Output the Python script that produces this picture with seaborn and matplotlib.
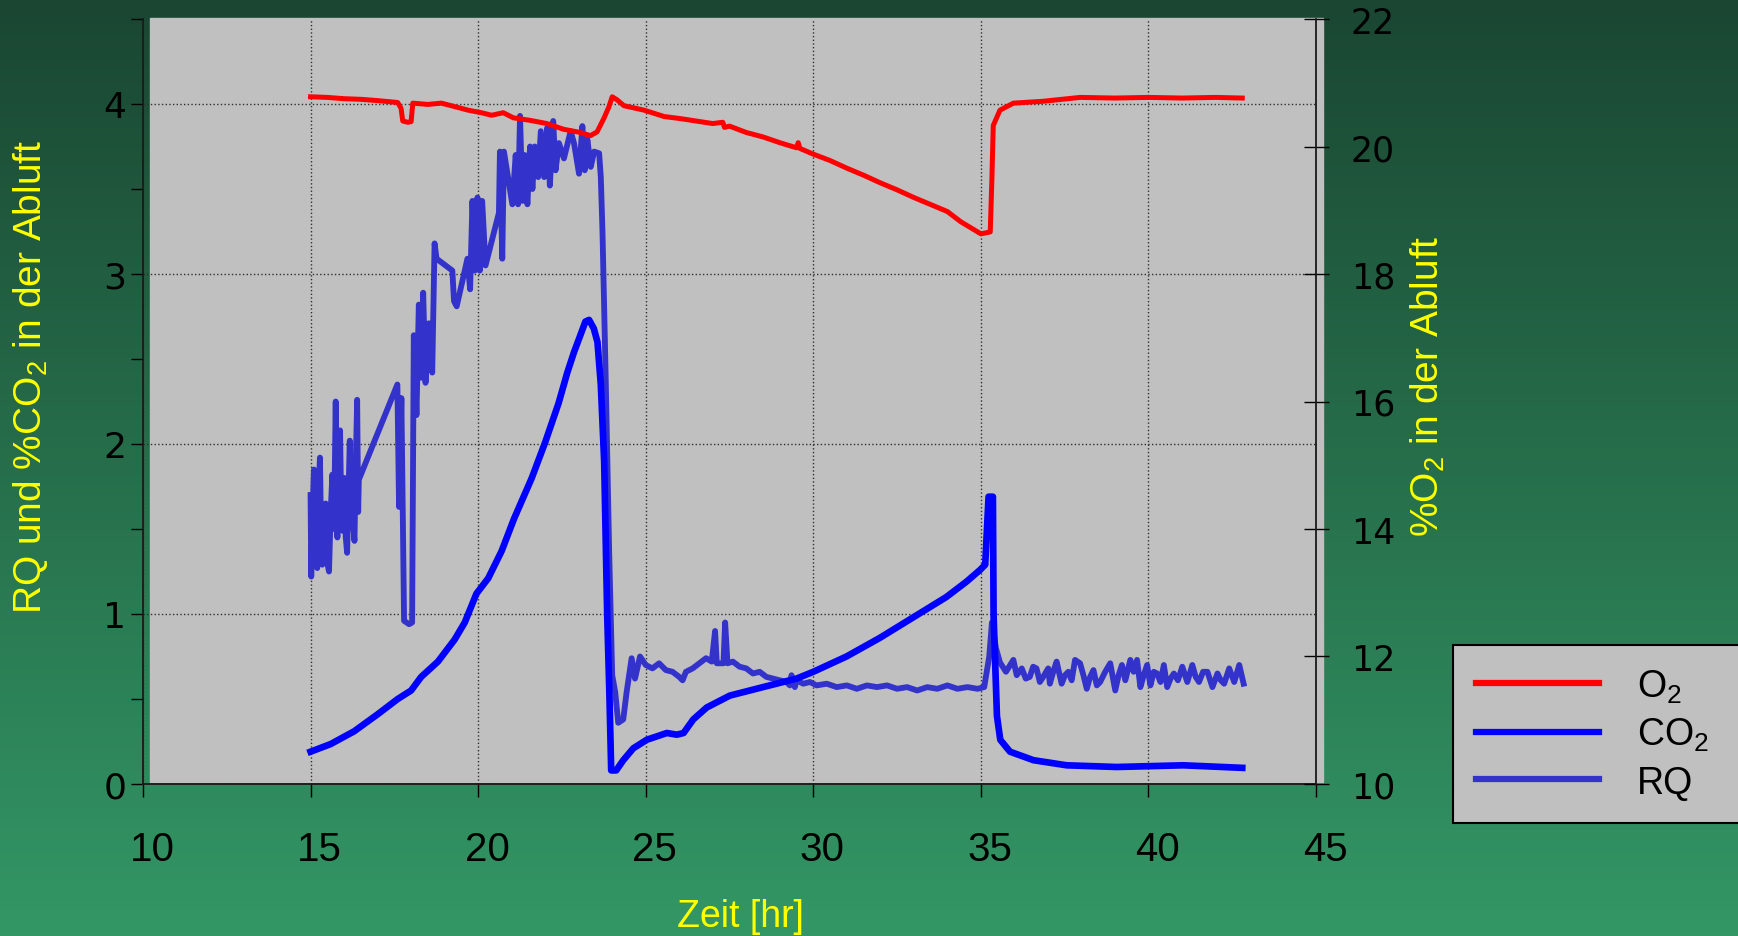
import numpy as np
import matplotlib
matplotlib.use("Agg")
import matplotlib.pyplot as plt
import matplotlib.transforms as mtransforms
from matplotlib.patches import Rectangle
import seaborn as sns

# O2 in der Abluft (right axis, %)
o2_time = [15.0, 15.5, 16.0, 16.5, 17.0, 17.6, 17.7, 17.75, 17.9, 18.0, 18.05, 18.5, 18.9,
           19.2, 19.7, 20.1, 20.4, 20.75, 21.05, 21.55, 22.05, 22.55, 23.05, 23.35, 23.55,
           23.75, 23.9, 24.0, 24.15, 24.35, 24.95, 25.55, 26.0, 26.5, 27.0, 27.3, 27.35,
           27.5, 28.0, 28.5, 29.0, 29.5, 29.55, 29.6, 30.0, 30.5, 31.0, 31.5, 32.0, 32.5,
           33.0, 33.5, 34.0, 34.4, 35.0, 35.28, 35.33, 35.37, 35.57, 35.97, 36.87, 37.96,
           39.0, 40.0, 41.0, 42.0, 42.8]
o2_value = [20.78, 20.77, 20.75, 20.74, 20.72, 20.69, 20.60, 20.40, 20.38, 20.39, 20.68, 20.66,
            20.68, 20.64, 20.57, 20.53, 20.49, 20.53, 20.45, 20.41, 20.36, 20.27, 20.22, 20.17,
            20.23, 20.44, 20.62, 20.78, 20.73, 20.64, 20.57, 20.47, 20.44, 20.40, 20.36, 20.38,
            20.30, 20.32, 20.22, 20.15, 20.06, 19.98, 20.06, 19.97, 19.88, 19.78, 19.66, 19.55,
            19.43, 19.32, 19.20, 19.09, 18.98, 18.82, 18.63, 18.66, 19.50, 20.33, 20.57, 20.68,
            20.71, 20.77, 20.76, 20.77, 20.76, 20.77, 20.76]

# CO2 in der Abluft (left axis, %)
co2_time = [15.0, 15.6, 16.3, 17.0, 17.6, 18.0, 18.3, 18.8, 19.3, 19.6, 19.95, 20.3, 20.7,
            21.07, 21.6, 22.0, 22.4, 22.66, 22.86, 23.05, 23.2, 23.31, 23.45, 23.56, 23.66,
            23.76, 23.85, 23.92, 23.97, 24.12, 24.33, 24.63, 25.03, 25.63, 25.93, 26.13, 26.42,
            26.82, 27.51, 28.5, 29.5, 30.0, 30.99, 31.99, 32.98, 33.97, 34.57, 34.98, 35.13,
            35.23, 35.36, 35.38, 35.48, 35.58, 35.87, 36.57, 37.56, 39.05, 41.04, 42.8]
co2_value = [0.19, 0.235, 0.31, 0.41, 0.50, 0.55, 0.63, 0.72, 0.85, 0.95, 1.12, 1.21, 1.37,
             1.56, 1.80, 2.01, 2.24, 2.42, 2.54, 2.64, 2.72, 2.73, 2.68, 2.60, 2.35,
             1.90, 1.00, 0.50, 0.08, 0.08, 0.14, 0.21, 0.26, 0.30, 0.29, 0.30, 0.38,
             0.45, 0.52, 0.57, 0.62, 0.66, 0.75, 0.86, 0.98, 1.10, 1.19, 1.26, 1.29,
             1.69, 1.69, 0.99, 0.40, 0.26, 0.19, 0.14, 0.11, 0.10, 0.11, 0.095]

# RQ (left axis)
rq_time = [15.00, 15.02, 15.06, 15.10, 15.14, 15.20, 15.24, 15.28, 15.32, 15.35, 15.40, 15.45,
           15.50, 15.55, 15.60, 15.65, 15.70, 15.75, 15.78, 15.80, 15.84, 15.88, 15.92, 15.95,
           15.98, 16.01, 16.05, 16.09, 16.13, 16.17, 16.20, 16.24, 16.28, 16.31, 16.35, 16.39,
           16.42, 16.44, 17.59, 17.64, 17.71, 17.79, 17.94, 18.03, 18.08, 18.16, 18.23, 18.30,
           18.36, 18.43, 18.53, 18.63, 18.70, 18.76, 19.23, 19.28, 19.36, 19.68, 19.76, 19.83,
           19.90, 19.98, 20.05, 20.12, 20.22, 20.62, 20.65, 20.72, 20.77, 21.02, 21.12, 21.19,
           21.25, 21.32, 21.39, 21.47, 21.55, 21.62, 21.69, 21.79, 21.87, 21.97, 22.06, 22.14,
           22.24, 22.31, 22.41, 22.56, 22.76, 22.86, 23.01, 23.11, 23.18, 23.26, 23.36, 23.46,
           23.61, 23.66, 23.71, 23.81, 23.91, 24.00, 24.09, 24.18, 24.33, 24.43, 24.58, 24.68,
           24.83, 25.0, 25.2, 25.4, 25.6, 25.8, 26.0, 26.1, 26.2, 26.4, 26.6, 26.8,
           26.97, 27.07, 27.12, 27.32, 27.37, 27.44, 27.6, 27.8, 28.0, 28.2, 28.4, 28.6,
           28.8, 29.0, 29.2, 29.3, 29.35, 29.45, 29.5, 29.7, 29.9, 30.1, 30.4, 30.7,
           31.0, 31.3, 31.6, 31.9, 32.2, 32.5, 32.8, 33.1, 33.4, 33.7, 34.0, 34.3,
           34.6, 34.9, 35.1, 35.25, 35.33, 35.45, 35.57, 35.75, 35.97, 36.07, 36.22, 36.34,
           36.46, 36.56, 36.66, 36.76, 36.86, 37.01, 37.06, 37.16, 37.26, 37.41, 37.51, 37.61,
           37.71, 37.81, 37.96, 38.06, 38.16, 38.26, 38.36, 38.46, 38.56, 38.71, 38.86, 39.01,
           39.11, 39.21, 39.31, 39.46, 39.56, 39.66, 39.76, 39.86, 39.96, 40.06, 40.16, 40.26,
           40.36, 40.46, 40.56, 40.66, 40.76, 40.88, 41.01, 41.16, 41.31, 41.41, 41.51, 41.63,
           41.76, 41.91, 42.06, 42.16, 42.26, 42.41, 42.56, 42.71, 42.84]
rq_value = [1.70, 1.22, 1.60, 1.85, 1.30, 1.27, 1.75, 1.92, 1.40, 1.29, 1.55, 1.65,
            1.30, 1.25, 1.60, 1.82, 1.50, 2.25, 1.70, 1.45, 1.90, 2.08, 1.55, 1.49,
            1.72, 1.80, 1.45, 1.36, 1.70, 2.02, 1.60, 1.83, 1.50, 1.43, 1.90, 2.26,
            1.60, 1.79, 2.35, 1.63, 2.27, 0.96, 0.94, 0.95, 2.64, 2.17, 2.82, 2.39,
            2.89, 2.36, 2.71, 2.42, 3.18, 3.09, 3.02, 2.84, 2.81, 3.09, 2.91, 3.43,
            3.02, 3.45, 3.02, 3.43, 3.05, 3.36, 3.72, 3.09, 3.72, 3.41, 3.70, 3.41,
            3.93, 3.43, 3.70, 3.41, 3.75, 3.50, 3.75, 3.57, 3.84, 3.57, 3.86, 3.52,
            3.90, 3.61, 3.77, 3.68, 3.84, 3.77, 3.59, 3.87, 3.61, 3.79, 3.63, 3.72,
            3.71, 3.57, 3.25, 2.35, 1.36, 0.64, 0.54, 0.36, 0.38, 0.54, 0.74, 0.62,
            0.75, 0.70, 0.68, 0.71, 0.67, 0.66, 0.63, 0.61, 0.66, 0.68, 0.71, 0.74,
            0.72, 0.90, 0.71, 0.71, 0.95, 0.71, 0.72, 0.69, 0.68, 0.65, 0.66, 0.63,
            0.62, 0.61, 0.60, 0.58, 0.64, 0.57, 0.61, 0.59, 0.60, 0.58, 0.59, 0.57,
            0.58, 0.56, 0.58, 0.57, 0.58, 0.56, 0.57, 0.55, 0.57, 0.56, 0.58, 0.56,
            0.57, 0.56, 0.57, 0.75, 0.95, 0.80, 0.715, 0.66, 0.73, 0.64, 0.68, 0.62,
            0.63, 0.69, 0.68, 0.60, 0.63, 0.68, 0.59, 0.66, 0.72, 0.59, 0.64, 0.66,
            0.61, 0.73, 0.71, 0.64, 0.56, 0.63, 0.67, 0.58, 0.60, 0.66, 0.71, 0.55,
            0.64, 0.70, 0.61, 0.73, 0.66, 0.73, 0.57, 0.64, 0.70, 0.58, 0.66, 0.65,
            0.60, 0.70, 0.57, 0.62, 0.65, 0.61, 0.69, 0.60, 0.70, 0.63, 0.60, 0.66,
            0.66, 0.57, 0.65, 0.61, 0.59, 0.68, 0.60, 0.70, 0.59]

W, H = 1738, 937

plt.rcParams["font.family"] = ["Liberation Sans", "DejaVu Sans"]
plt.rcParams["mathtext.default"] = "regular"

fig = plt.figure(figsize=(W / 100, H / 100), dpi=100)

# green gradient background + grey plot area
bg = fig.add_axes([0, 0, 1, 1], zorder=-10)
top = np.array([26, 70, 50]) / 255
bottom = np.array([51, 151, 101]) / 255
grad = np.linspace(0, 1, 256)[:, None, None]
bg.imshow(top + (bottom - top) * grad, extent=[0, 1, 0, 1], aspect="auto")
bg.add_patch(Rectangle((150 / W, 1 - 783 / H), 1173 / W, 764 / H,
                       transform=bg.transAxes, color="#c0c0c0"))
bg.set_xlim(0, 1)
bg.set_ylim(0, 1)
bg.axis("off")

ax = fig.add_axes([143 / W, 152 / H, 1173 / W, 765 / H])
ax.set_facecolor("none")
ax2 = ax.twinx()
ax2.set_facecolor("none")

sns.lineplot(x=rq_time, y=rq_value, ax=ax, color="#3333cc", lw=4.2,
             estimator=None, sort=False, label="RQ", legend=False)
sns.lineplot(x=co2_time, y=co2_value, ax=ax, color="#0000ff", lw=4.8,
             estimator=None, sort=False, label="CO$_2$", legend=False)
sns.lineplot(x=o2_time, y=o2_value, ax=ax2, color="#ff0000", lw=3.6,
             estimator=None, sort=False, label="O$_2$", legend=False)

ax.set_xlim(10, 45)
ax.set_ylim(0, 4.5)
ax2.set_ylim(10, 22)
ax.set_xticks(range(10, 46, 5))
ax.set_yticks([0, 1, 2, 3, 4])
ax.set_yticks([0.5, 1.5, 2.5, 3.5, 4.5], minor=True)
ax2.set_yticks(range(10, 23, 2))
ax.set_xlabel("")
ax.set_ylabel("")
ax2.set_ylabel("")

ax.grid(True, which="major", ls=":", color="#303030", lw=1)
ax.set_axisbelow(True)

for s in ["top", "right"]:
    ax.spines[s].set_visible(False)
for s in ["top", "left", "bottom"]:
    ax2.spines[s].set_visible(False)
for sp in [ax.spines["left"], ax.spines["bottom"], ax2.spines["right"]]:
    sp.set_color("#1a1a1a")
    sp.set_linewidth(1.3)

ax.tick_params(axis="x", direction="out", length=9, width=1, pad=24, labelsize=29)
ax.tick_params(axis="y", which="both", direction="out", length=9, width=1, pad=3, labelsize=26)
ax2.tick_params(axis="y", direction="inout", length=18, width=1, pad=16, labelsize=25)
for lbl in ax.get_yticklabels() + ax2.get_yticklabels():
    lbl.set_fontfamily("DejaVu Sans")
# x tick labels sit a little right of their ticks in the original
shift = mtransforms.ScaledTranslation(9 / 100, 0, fig.dpi_scale_trans)
for lbl in ax.get_xticklabels():
    lbl.set_transform(lbl.get_transform() + shift)

yellow = "#ffff00"
fig.text(31 / W, 1 - 377 / H, "RQ und %CO$_2$ in der Abluft", rotation=90,
         ha="center", va="center", color=yellow, fontsize=28)
fig.text(1428 / W, 1 - 386 / H, "%O$_2$ in der Abluft", rotation=90,
         ha="center", va="center", color=yellow, fontsize=28)
fig.text(740 / W, 1 - 917 / H, "Zeit [hr]", ha="center", va="center",
         color=yellow, fontsize=27)

h_rq, h_co2 = ax.get_lines()[:2]
h_o2 = ax2.get_lines()[0]
leg = fig.legend([h_o2, h_co2, h_rq], ["O$_2$", "CO$_2$", "RQ"],
                 loc="upper left", bbox_to_anchor=(1453 / W, 1 - 818 / H, 0.2, 172 / H),
                 mode="expand", borderaxespad=0, fontsize=27, handlelength=3.3,
                 handletextpad=1.0, labelspacing=0.3, borderpad=0.6,
                 fancybox=False, framealpha=1, facecolor="#c0c0c0", edgecolor="black")
leg.get_frame().set_linewidth(1.5)
for h in leg.legend_handles:
    h.set_linewidth(4.5)

fig.savefig("out.png", dpi=100)
